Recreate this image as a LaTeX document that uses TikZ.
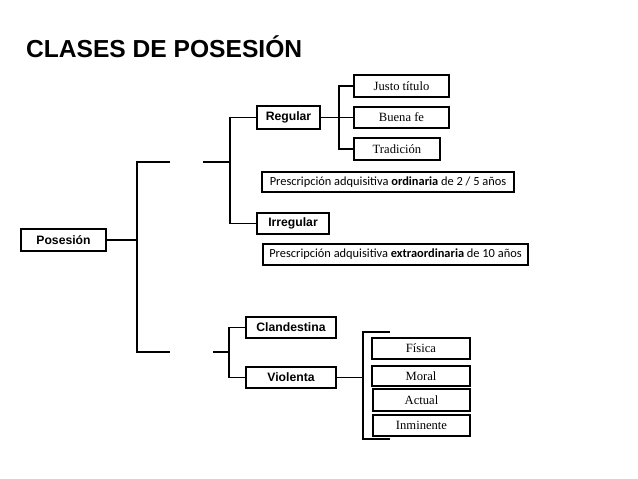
\documentclass[tikz,border=0pt]{standalone}
\usepackage{fontspec}
\setmainfont{Liberation Serif}
\newfontfamily\arialf{Liberation Sans}
\newfontfamily\calibrif{Carlito}
\begin{document}
\begin{tikzpicture}[x=1pt,y=-1pt,
  line width=1.1pt,
  box/.style={draw, line width=1.1pt, rectangle, inner sep=0pt, align=center},
  sansbox/.style={box, font=\arialf\bfseries\fontsize{12.2}{14}\selectfont},
  serifbox/.style={box, font=\fontsize{12.6}{14}\selectfont},
  calbox/.style={box, font=\calibrif\fontsize{12.4}{14}\selectfont},
  title/.style={inner sep=0pt, anchor=base west, font=\arialf\bfseries\fontsize{24.6}{30}\selectfont}]
\useasboundingbox (0,0) rectangle (638,479);
\fill[white] (0,0) rectangle (638,479);

\node[title] (ttl) at (25.5,57) {CLASES DE POSESIÓN};

% boxes
\node[sansbox, minimum width=85pt, minimum height=22pt] (pos) at (63.5,240) {Posesión};
\node[sansbox, minimum width=63pt, minimum height=23pt] (reg) at (288.5,117.5) {Regular};
\node[serifbox, minimum width=95pt, minimum height=22pt] (jt) at (401.5,86) {Justo título};
\node[serifbox, minimum width=95pt, minimum height=21pt] (bf) at (401.5,117.5) {Buena fe};
\node[serifbox, minimum width=86pt, minimum height=22pt] (tr) at (397,149) {Tradición};
\node[calbox, minimum width=252pt, minimum height=20pt] (ord) at (388,182) {Prescripción adquisitiva \textbf{ordinaria} de 2 / 5 años};
\node[sansbox, minimum width=72pt, minimum height=21pt] (irr) at (293,223.5) {Irregular};
\node[calbox, minimum width=265pt, minimum height=21pt] (ext) at (395.5,254.5) {Prescripción adquisitiva \textbf{extraordinaria} de 10 años};
\node[sansbox, minimum width=90pt, minimum height=21pt] (cla) at (291,327.5) {Clandestina};
\node[sansbox, minimum width=90pt, minimum height=21pt] (vio) at (291,377.5) {Violenta};
\node[serifbox, minimum width=98pt, minimum height=21pt] (fis) at (421,348.5) {Física};
\node[serifbox, minimum width=98pt, minimum height=20pt] (mor) at (421,376) {Moral};
\node[serifbox, minimum width=97pt, minimum height=22pt] (act) at (421.5,400) {Actual};
\node[serifbox, minimum width=97pt, minimum height=21pt] (inm) at (421.5,425.5) {Inminente};

% main bracket
\coordinate (mt1) at (170,162);
\coordinate (mb1) at (170,352);
\coordinate (mt2) at (203,162);
\coordinate (mb2) at (213,352);
\draw (pos.east) -- (137,240);
\draw (mt1) -- (137,162) -- (137,352) -- (mb1);

% upper branch: Regular / Irregular
\draw (mt2) -- (230,162);
\draw (reg.west) -- (230,117.5) -- (230,223.5) -- (irr.west);

% Regular subbranches
\draw (reg.east) -- (bf.west);
\draw (jt.west) -- (339,86) -- (339,149) -- (tr.west);

% lower branch: Clandestina / Violenta
\draw (mb2) -- (229,352);
\draw (cla.west) -- (229,327.5) -- (229,377.5) -- (vio.west);

% Violenta subbranches bracket
\coordinate (vt) at (390,332);
\coordinate (vb) at (390,439);
\draw (vio.east) -- (363,377.5);
\draw (vt) -- (363,332) -- (363,439) -- (vb);
\end{tikzpicture}
\end{document}
